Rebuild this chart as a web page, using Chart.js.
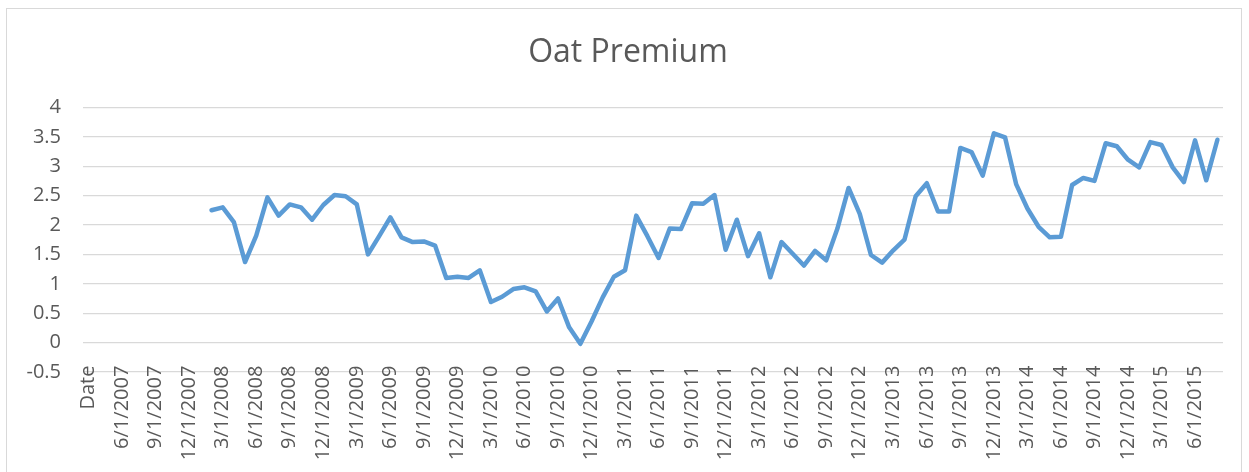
<!DOCTYPE html>
<html>
<head>
    <title>Oat Premium</title>
    <script src="https://cdn.jsdelivr.net/npm/chart.js"></script>
    <style>
        body { margin: 0; background: #fff; }
        #wrap { position: relative; width: 1249px; height: 472px; }
        #frame { position: absolute; left: 6px; top: 8px; width: 1234px; height: 470px; border: 1px solid #d9d9d9; }
        #wrap canvas { position: absolute; left: 0; top: 0; }
    </style>
</head>
<body>
<div id="wrap">
    <div id="frame"></div>
    <canvas id="oatChart" width="1249" height="472"></canvas>
</div>
<script>
    // category axis: "Date" header cell, then monthly dates
    const dates = ['Date',
        '4/1/2007', '5/1/2007', '6/1/2007', '7/1/2007', '8/1/2007', '9/1/2007', '10/1/2007', '11/1/2007', '12/1/2007',
        '1/1/2008', '2/1/2008', '3/1/2008', '4/1/2008', '5/1/2008', '6/1/2008', '7/1/2008', '8/1/2008', '9/1/2008', '10/1/2008', '11/1/2008', '12/1/2008',
        '1/1/2009', '2/1/2009', '3/1/2009', '4/1/2009', '5/1/2009', '6/1/2009', '7/1/2009', '8/1/2009', '9/1/2009', '10/1/2009', '11/1/2009', '12/1/2009',
        '1/1/2010', '2/1/2010', '3/1/2010', '4/1/2010', '5/1/2010', '6/1/2010', '7/1/2010', '8/1/2010', '9/1/2010', '10/1/2010', '11/1/2010', '12/1/2010',
        '1/1/2011', '2/1/2011', '3/1/2011', '4/1/2011', '5/1/2011', '6/1/2011', '7/1/2011', '8/1/2011', '9/1/2011', '10/1/2011', '11/1/2011', '12/1/2011',
        '1/1/2012', '2/1/2012', '3/1/2012', '4/1/2012', '5/1/2012', '6/1/2012', '7/1/2012', '8/1/2012', '9/1/2012', '10/1/2012', '11/1/2012', '12/1/2012',
        '1/1/2013', '2/1/2013', '3/1/2013', '4/1/2013', '5/1/2013', '6/1/2013', '7/1/2013', '8/1/2013', '9/1/2013', '10/1/2013', '11/1/2013', '12/1/2013',
        '1/1/2014', '2/1/2014', '3/1/2014', '4/1/2014', '5/1/2014', '6/1/2014', '7/1/2014', '8/1/2014', '9/1/2014', '10/1/2014', '11/1/2014', '12/1/2014',
        '1/1/2015', '2/1/2015', '3/1/2015', '4/1/2015', '5/1/2015', '6/1/2015', '7/1/2015', '8/1/2015'
    ];

    // no values before 2/1/2008
    const premium = [null,
        null, null, null, null, null, null, null, null, null,
        null, 2.25, 2.30, 2.05, 1.37, 1.82, 2.47, 2.16, 2.35, 2.30, 2.09, 2.34,
        2.51, 2.49, 2.35, 1.50, 1.81, 2.13, 1.79, 1.71, 1.72, 1.65, 1.10, 1.12,
        1.10, 1.23, 0.69, 0.78, 0.91, 0.94, 0.87, 0.53, 0.75, 0.26, -0.02, 0.36,
        0.77, 1.12, 1.23, 2.16, 1.81, 1.44, 1.94, 1.93, 2.37, 2.36, 2.51, 1.58,
        2.09, 1.47, 1.86, 1.11, 1.71, 1.51, 1.31, 1.56, 1.40, 1.94, 2.63, 2.19,
        1.49, 1.36, 1.57, 1.75, 2.49, 2.71, 2.23, 2.23, 3.31, 3.24, 2.84, 3.56,
        3.49, 2.69, 2.28, 1.97, 1.79, 1.80, 2.68, 2.80, 2.75, 3.39, 3.34, 3.11,
        2.98, 3.41, 3.36, 2.98, 2.73, 3.44, 2.76, 3.45
    ];

    const yMin = -0.5;
    const yMax = 4;
    const yStep = 0.5;
    const labelEvery = 3;

    const grey = '#595959';

    // centre the title on the chart frame rather than on the canvas
    const titleShift = {
        id: 'titleShift',
        afterLayout: function (chart) {
            chart.titleBlock.left = 33;
        }
    };

    const ctx = document.getElementById('oatChart').getContext('2d');
    const oatChart = new Chart(ctx, {
        type: 'line',
        data: {
            labels: dates,
            datasets: [{
                label: 'Oat Premium',
                data: premium,
                borderColor: '#5b9bd5',
                borderWidth: 4.5,
                borderCapStyle: 'round',
                borderJoinStyle: 'round',
                pointRadius: 0,
                tension: 0,
                spanGaps: false,
                fill: false
            }]
        },
        options: {
            responsive: false,
            animation: false,
            layout: {
                padding: { top: 0, right: 26, bottom: 100, left: 0 }
            },
            plugins: {
                legend: { display: false },
                tooltip: { enabled: false },
                title: {
                    display: true,
                    text: 'Oat Premium',
                    color: grey,
                    font: { family: 'Open Sans', size: 32, weight: 'normal' },
                    padding: { top: 34, bottom: 35 }
                }
            },
            scales: {
                x: {
                    position: { y: 0 },
                    offset: true,
                    afterFit: function (scale) {
                        // rotated labels should not shrink the plot
                        scale.paddingLeft = 0;
                        scale.paddingRight = 0;
                    },
                    grid: { display: false },
                    border: { display: false },
                    ticks: {
                        autoSkip: false,
                        minRotation: 90,
                        maxRotation: 90,
                        padding: 15,
                        color: grey,
                        font: { family: 'Open Sans', size: 20 },
                        callback: function (value, index) {
                            return index % labelEvery === 0 ? this.getLabelForValue(value) : '';
                        }
                    }
                },
                y: {
                    min: yMin,
                    max: yMax,
                    afterFit: function (scale) { scale.width = 83; },
                    grid: { color: '#d9d9d9', lineWidth: 1.3, drawTicks: false },
                    border: { display: false },
                    ticks: {
                        stepSize: yStep,
                        padding: 22,
                        color: grey,
                        font: { family: 'Open Sans', size: 20 },
                        callback: function (value) { return String(value); }
                    }
                }
            }
        },
        plugins: [titleShift]
    });
</script>
</body>
</html>
